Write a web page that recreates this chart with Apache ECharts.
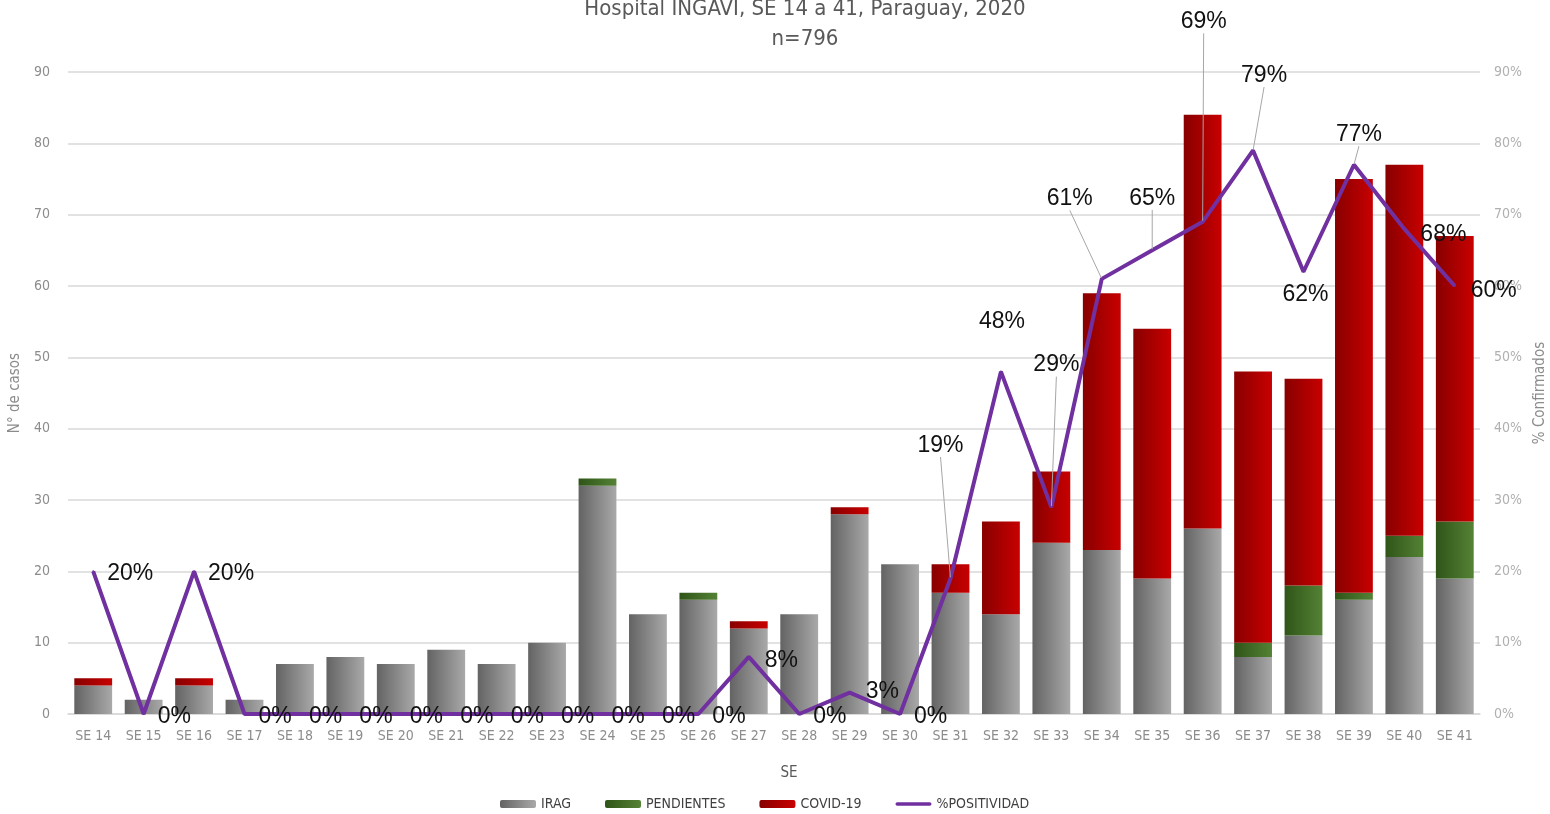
<!DOCTYPE html>
<html>
<head>
<meta charset="utf-8">
<script src="https://cdn.jsdelivr.net/npm/echarts@6/dist/echarts.min.js"></script>
<style>
  html, body { margin: 0; padding: 0; background: #fff; }
  #chart { width: 1550px; height: 814px; }
</style>
</head>
<body>
<div id="chart"></div>
<script>
// semanas epidemiologicas
const weeks = ['SE 14', 'SE 15', 'SE 16', 'SE 17', 'SE 18', 'SE 19', 'SE 20', 'SE 21', 'SE 22', 'SE 23',
  'SE 24', 'SE 25', 'SE 26', 'SE 27', 'SE 28', 'SE 29', 'SE 30', 'SE 31', 'SE 32', 'SE 33',
  'SE 34', 'SE 35', 'SE 36', 'SE 37', 'SE 38', 'SE 39', 'SE 40', 'SE 41'];
const irag = [4, 2, 4, 2, 7, 8, 7, 9, 7, 10, 32, 14, 16, 12, 14, 28, 21, 17, 14, 24, 23, 19, 26, 8, 11, 16, 22, 19];
const pendientes = [0, 0, 0, 0, 0, 0, 0, 0, 0, 0, 1, 0, 1, 0, 0, 0, 0, 0, 0, 0, 0, 0, 0, 2, 7, 1, 3, 8];
const covid = [1, 0, 1, 0, 0, 0, 0, 0, 0, 0, 0, 0, 0, 1, 0, 1, 0, 4, 13, 10, 36, 35, 58, 38, 29, 58, 52, 40];
const positividad = [20, 0, 20, 0, 0, 0, 0, 0, 0, 0, 0, 0, 0, 8, 0, 3, 0, 19, 48, 29, 61, 65, 69, 79, 62, 77, 68, 60];

// desplazamiento de etiquetas (px) respecto a la posicion 'right'
const labelShift = [[1, 2], [1, 3], [1, 2], [1, 3], [1, 3], [1, 3], [1, 3], [1, 3], [1, 3], [1, 3],
  [1, 3], [1, 3], [1, 3], [3, 4], [1, 3], [3, -1], [1, 3], [-46, -133], [-35, -50], [-31, -142],
  [-68, -80], [-36, -52], [-35, -200], [-25, -75], [-34, 23], [-31, -30], [3, 6], [3, 5]];
const withLeader = [17, 19, 20, 21, 22, 23, 25];

const condensed = "'Liberation Sans Narrow', 'DejaVu Sans Condensed', sans-serif";

function grad(c1, c2) {
  return new echarts.graphic.LinearGradient(0, 0, 1, 0, [
    { offset: 0, color: c1 },
    { offset: 1, color: c2 }
  ]);
}

const chart = echarts.init(document.getElementById('chart'));

const option = {
  animation: false,
  title: {
    text: 'Hospital INGAVI, SE 14 a 41, Paraguay, 2020\nn=796',
    left: 800,
    textAlign: 'center',
    top: -11,
    textStyle: {
      fontFamily: condensed,
      fontSize: 22,
      fontWeight: 'normal',
      color: '#595959',
      lineHeight: 30
    }
  },
  legend: {
    bottom: -2,
    left: 495,
    itemWidth: 36,
    itemHeight: 8,
    itemGap: 34,
    textStyle: { fontFamily: condensed, fontSize: 14, color: '#404040' },
    data: [
      { name: 'IRAG' },
      { name: 'PENDIENTES' },
      { name: 'COVID-19' },
      { name: '%POSITIVIDAD', icon: 'path://M2,0 H38 A2,2 0 0 1 38,4 H2 A2,2 0 0 1 2,0 Z' }
    ]
  },
  grid: {
    left: 68,
    right: 70,
    top: 72,
    bottom: 100,
    outerBoundsMode: 'none'
  },
  xAxis: {
    type: 'category',
    data: weeks,
    name: 'SE',
    nameLocation: 'middle',
    nameGap: 52,
    nameTextStyle: { fontFamily: condensed, fontSize: 15, color: '#595959', padding: [0, 0, 0, 30] },
    axisTick: { show: false },
    axisLine: { lineStyle: { color: '#d9d9d9', width: 1.5 } },
    axisLabel: { fontFamily: condensed, fontSize: 14, color: '#8c8c8c', margin: 15 }
  },
  yAxis: [
    {
      type: 'value',
      min: 0,
      max: 90,
      interval: 10,
      name: 'N° de casos',
      nameLocation: 'middle',
      nameGap: 40,
      nameRotate: 90,
      nameTextStyle: { fontFamily: condensed, fontSize: 15, color: '#8c8c8c' },
      axisLabel: { fontFamily: condensed, fontSize: 14, color: '#8c8c8c', margin: 18 },
      splitLine: { lineStyle: { color: '#d9d9d9', width: 1.5 } }
    },
    {
      type: 'value',
      min: 0,
      max: 90,
      interval: 10,
      name: '% Confirmados',
      nameLocation: 'middle',
      nameGap: 52,
      nameRotate: 90,
      nameTextStyle: { fontFamily: condensed, fontSize: 15, color: '#8c8c8c' },
      axisLabel: { formatter: '{value}%', fontFamily: condensed, fontSize: 14, color: '#b0b0b0', margin: 14 },
      splitLine: { show: false }
    }
  ],
  series: [
    {
      name: 'IRAG',
      type: 'bar',
      stack: 'total',
      barWidth: '75%',
      itemStyle: { color: grad('#636363', '#a9a9a9') },
      data: irag
    },
    {
      name: 'PENDIENTES',
      type: 'bar',
      stack: 'total',
      itemStyle: { color: grad('#2f5418', '#548235') },
      data: pendientes
    },
    {
      name: 'COVID-19',
      type: 'bar',
      stack: 'total',
      itemStyle: { color: grad('#880000', '#c80000') },
      data: covid
    },
    {
      name: '%POSITIVIDAD',
      type: 'line',
      yAxisIndex: 1,
      symbol: 'circle',
      symbolSize: 2,
      z: 5,
      lineStyle: { color: '#7030a0', width: 4 },
      itemStyle: { color: '#7030a0' },
      label: {
        show: true,
        position: 'right',
        distance: 12,
        formatter: '{c}%',
        fontFamily: "'Liberation Sans', Arial, sans-serif",
        fontSize: 23,
        color: '#111'
      },
      labelLine: { show: false, lineStyle: { color: '#a6a6a6', width: 1 } },
      labelLayout: function (params) {
        const s = labelShift[params.dataIndex];
        return { dx: s[0], dy: s[1] };
      },
      data: positividad.map(function (v, i) {
        if (withLeader.indexOf(i) >= 0) {
          return { value: v, labelLine: { show: true, lineStyle: { color: '#a6a6a6', width: 1 } } };
        }
        return v;
      })
    }
  ]
};

chart.setOption(option);
</script>
</body>
</html>
